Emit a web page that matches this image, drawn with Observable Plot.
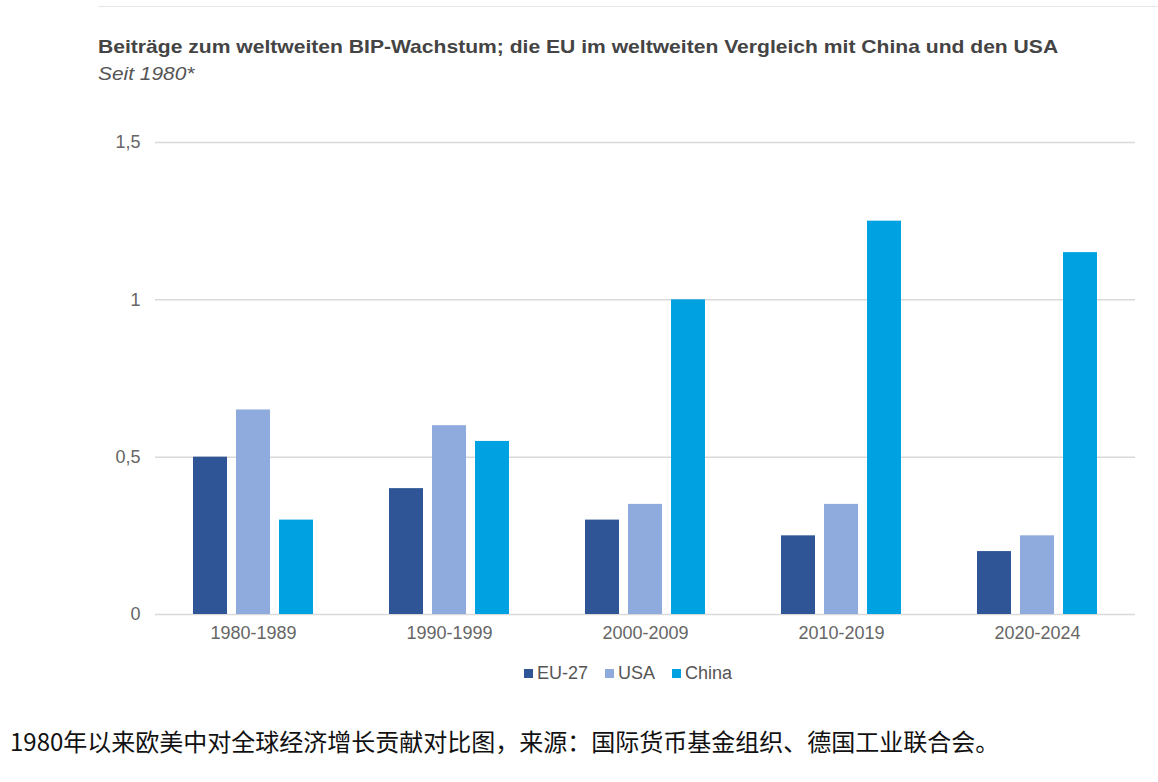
<!DOCTYPE html>
<html>
<head>
<meta charset="utf-8">
<script src="https://cdn.jsdelivr.net/npm/d3@7"></script>
<script src="https://cdn.jsdelivr.net/npm/@observablehq/plot@0.6"></script>
<style>
  html, body { margin: 0; padding: 0; background: #fff; width: 1158px; height: 782px; overflow: hidden; }
  body { position: relative; font-family: "Liberation Sans", Arial, sans-serif; }
  #topline { position: absolute; left: 98px; right: 0; top: 6px; height: 1px; background: #e6e6e6; }
  #title { position: absolute; left: 98px; top: 36px; font-size: 19px; font-weight: bold; color: #444; transform-origin: 0 0; transform: scaleX(1.11); white-space: nowrap; }
  #subtitle { position: absolute; left: 98px; top: 63px; font-size: 19px; font-style: italic; color: #555; transform-origin: 0 0; transform: scaleX(1.1); white-space: nowrap; }
  #chart { position: absolute; left: 0; top: 100px; }
  #legend { position: absolute; top: 663px; left: 524px; font-size: 18px; color: #555; display: flex; align-items: center; }
  #legend .item { display: flex; align-items: center; margin-right: 17px; }
  #legend .sw { width: 9px; height: 9px; margin-right: 4px; }
  #caption { position: absolute; left: 10px; top: 723px; font-family: "Noto Sans CJK SC", sans-serif; font-size: 24px; color: #111; white-space: nowrap; }
</style>
</head>
<body>
<div id="topline"></div>
<div id="title">Beiträge zum weltweiten BIP-Wachstum; die EU im weltweiten Vergleich mit China und den USA</div>
<div id="subtitle">Seit 1980*</div>
<div id="chart"></div>
<div id="legend"></div>
<div id="caption">1980年以来欧美中对全球经济增长贡献对比图，来源：国际货币基金组织、德国工业联合会。</div>
<script>
const periods = ["1980-1989", "1990-1999", "2000-2009", "2010-2019", "2020-2024"];
const seriesNames = ["EU-27", "USA", "China"];
const seriesColors = ["#2f5597", "#8faadc", "#00a1e0"];
const eu27 = [0.5, 0.4, 0.3, 0.25, 0.2];
const usa = [0.65, 0.6, 0.35, 0.35, 0.25];
const china = [0.3, 0.55, 1.0, 1.25, 1.15];
const yTicks = [0, 0.5, 1, 1.5];

const valuesBySeries = [eu27, usa, china];
const data = [];
periods.forEach((p, i) => {
  seriesNames.forEach((s, j) => {
    data.push({period: p, series: s, value: valuesBySeries[j][i]});
  });
});

const plot = Plot.plot({
  width: 1158,
  height: 560,
  marginLeft: 155,
  marginRight: 23,
  marginTop: 42,
  marginBottom: 46,
  style: {fontFamily: "Liberation Sans, Arial, sans-serif", fontSize: "18px", color: "#666", background: "#fff"},
  fx: {domain: periods, padding: 0, label: null, axis: null},
  x: {domain: seriesNames, paddingInner: 0.22, paddingOuter: 0.86, axis: null},
  y: {domain: [0, 1.5], ticks: yTicks, label: null, axis: null},
  color: {domain: seriesNames, range: seriesColors},
  marks: [
    Plot.gridY(yTicks, {stroke: "#d9d9d9", strokeOpacity: 1, strokeWidth: 1.5}),
    Plot.barY(data, {fx: "period", x: "series", y: "value", fill: "series"}),
    Plot.axisY(yTicks, {anchor: "left", tickSize: 0, tickPadding: 15, label: null,
      tickFormat: d => String(d).replace(".", ","), fontSize: 18, fill: "#666"}),
    Plot.axisFx({anchor: "bottom", tickSize: 0, tickPadding: 12, label: null, fontSize: 18, fill: "#666"})
  ]
});
document.getElementById("chart").appendChild(plot);

const legend = document.getElementById("legend");
seriesNames.forEach((s, i) => {
  const item = document.createElement("div");
  item.className = "item";
  const sw = document.createElement("div");
  sw.className = "sw";
  sw.style.background = seriesColors[i];
  const t = document.createElement("span");
  t.textContent = s;
  item.appendChild(sw);
  item.appendChild(t);
  legend.appendChild(item);
});
</script>
</body>
</html>
